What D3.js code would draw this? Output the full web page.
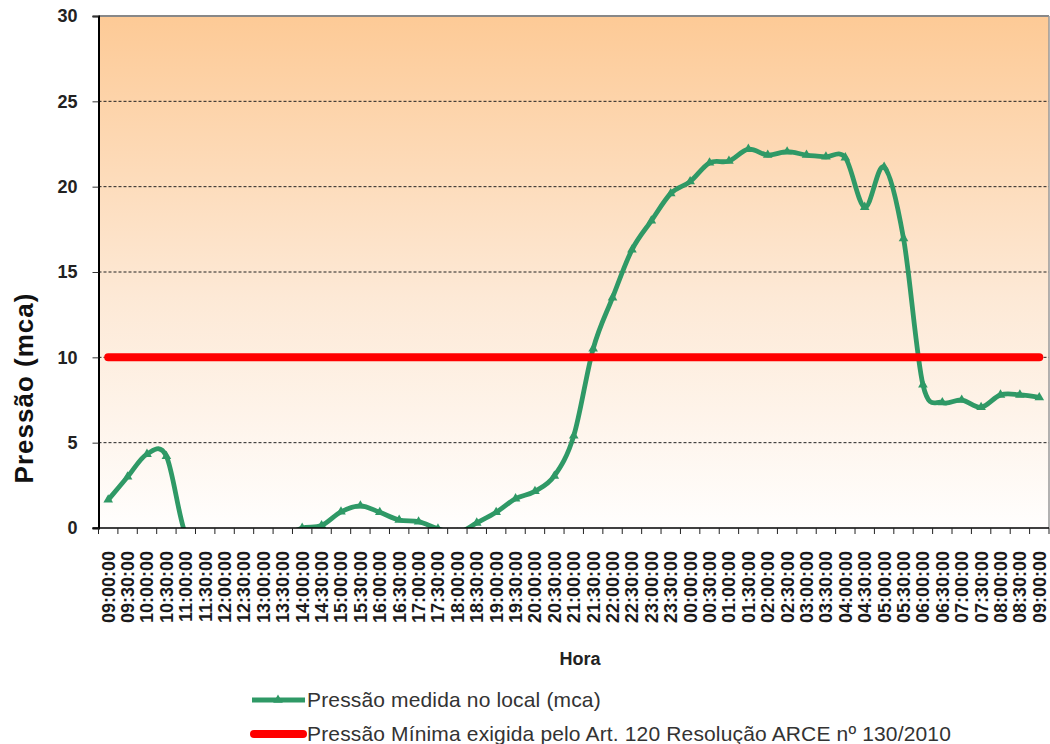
<!DOCTYPE html>
<html>
<head>
<meta charset="utf-8">
<script src="https://cdn.jsdelivr.net/npm/d3@7"></script>
<style>
  body { margin: 0; background: #fff; }
  svg { display: block; font-family: "Liberation Sans", Arial, sans-serif; }
</style>
</head>
<body>
<svg id="chart" width="1050" height="744"></svg>
<script>
// ============= Data =============
const times = [
  '09:00:00','09:30:00','10:00:00','10:30:00','11:00:00','11:30:00','12:00:00','12:30:00',
  '13:00:00','13:30:00','14:00:00','14:30:00','15:00:00','15:30:00','16:00:00','16:30:00',
  '17:00:00','17:30:00','18:00:00','18:30:00','19:00:00','19:30:00','20:00:00','20:30:00',
  '21:00:00','21:30:00','22:00:00','22:30:00','23:00:00','23:30:00','00:00:00','00:30:00',
  '01:00:00','01:30:00','02:00:00','02:30:00','03:00:00','03:30:00','04:00:00','04:30:00',
  '05:00:00','05:30:00','06:00:00','06:30:00','07:00:00','07:30:00','08:00:00','08:30:00',
  '09:00:00'
];

// Measured pressure (values below 0 are clipped by the axis)
const pressao = [
  1.65, 3.0, 4.33, 4.2, -0.4, -0.6, -0.6, -0.6,
  -0.6, -0.5, 0.0, 0.15, 0.95, 1.3, 0.92, 0.47,
  0.37, -0.05, -0.3, 0.3, 0.92, 1.72, 2.15, 3.05,
  5.4, 10.5, 13.5, 16.3, 18.0, 19.6, 20.3, 21.4,
  21.5, 22.2, 21.85, 22.05, 21.85, 21.75, 21.7, 18.8,
  21.15, 16.97, 8.4, 7.35, 7.5, 7.07, 7.8, 7.8,
  7.65
];

// Minimum required pressure
const pressaoMinima = times.map(() => 10);

const yTicks = [0, 5, 10, 15, 20, 25, 30];

const legendLabels = [
  'Pressão medida no local (mca)',
  'Pressão Mínima exigida pelo Art. 120 Resolução ARCE nº 130/2010'
];

// ============= Layout =============
const svg = d3.select('#chart');
const plotLeft = 98.5, plotRight = 1049, plotTop = 16, plotBottom = 528;
const green = '#2f9966', red = '#ff0000';

const x = d3.scaleBand()
  .domain(d3.range(times.length))
  .range([plotLeft, plotRight])
  .padding(0);

const y = d3.scaleLinear()
  .domain([0, 30])
  .range([plotBottom, plotTop]);

const cx = i => x(i) + x.bandwidth() / 2;

// Background gradient
const defs = svg.append('defs');
const grad = defs.append('linearGradient')
  .attr('id', 'bg')
  .attr('x1', 0).attr('y1', 0).attr('x2', 0).attr('y2', 1);
grad.append('stop').attr('offset', '0%').attr('stop-color', '#fdca96');
grad.append('stop').attr('offset', '55%').attr('stop-color', '#fde9d6');
grad.append('stop').attr('offset', '100%').attr('stop-color', '#fffefd');

defs.append('clipPath').attr('id', 'plot-clip')
  .append('rect')
  .attr('x', plotLeft).attr('y', plotTop)
  .attr('width', plotRight - plotLeft).attr('height', plotBottom - plotTop);

svg.append('rect')
  .attr('x', plotLeft).attr('y', plotTop)
  .attr('width', plotRight - plotLeft).attr('height', plotBottom - plotTop)
  .attr('fill', 'url(#bg)');

// Grid lines
svg.append('g')
  .selectAll('line')
  .data(yTicks.filter(d => d > 0 && d < 30))
  .join('line')
    .attr('x1', plotLeft).attr('x2', plotRight)
    .attr('y1', d => y(d)).attr('y2', d => y(d))
    .attr('stroke', '#222')
    .attr('stroke-width', 1)
    .attr('stroke-dasharray', '3,2');

// Top and right border
svg.append('line')
  .attr('x1', plotLeft).attr('x2', plotRight)
  .attr('y1', plotTop).attr('y2', plotTop)
  .attr('stroke', '#888').attr('stroke-width', 2);
svg.append('line')
  .attr('x1', plotRight).attr('x2', plotRight)
  .attr('y1', plotTop).attr('y2', plotBottom)
  .attr('stroke', '#999').attr('stroke-width', 1.5);

// ============= Series =============
const plot = svg.append('g').attr('clip-path', 'url(#plot-clip)');

const line = d3.line()
  .x((d, i) => cx(i))
  .y(d => y(d))
  .curve(d3.curveCardinal.tension(0));

// Minimum line
svg.append('path')
  .datum(pressaoMinima)
  .attr('d', d3.line().x((d, i) => cx(i)).y(d => y(d)))
  .attr('fill', 'none')
  .attr('stroke', red)
  .attr('stroke-width', 8)
  .attr('stroke-linecap', 'round');

// Measured line
plot.append('path')
  .datum(pressao)
  .attr('d', line)
  .attr('fill', 'none')
  .attr('stroke', green)
  .attr('stroke-width', 4.8)
  .attr('stroke-linejoin', 'round');

plot.append('g')
  .selectAll('path')
  .data(pressao)
  .join('path')
    .attr('d', d3.symbol(d3.symbolTriangle, 40))
    .attr('transform', (d, i) => 'translate(' + cx(i) + ',' + y(d) + ')')
    .attr('fill', green);

// ============= Axes =============
const yAxis = svg.append('g')
  .attr('transform', 'translate(' + plotLeft + ',0)')
  .call(d3.axisLeft(y).tickValues(yTicks).tickSize(6).tickPadding(15));
yAxis.select('.domain').attr('stroke', '#000').attr('stroke-width', 2);
yAxis.selectAll('.tick line').attr('stroke', '#333');
yAxis.selectAll('.tick text')
  .attr('font-size', 18).attr('font-weight', 'bold').attr('fill', '#222')
  .attr('font-family', '"Liberation Sans", Arial, sans-serif');

// Bottom axis line and ticks at category boundaries
svg.append('line')
  .attr('x1', plotLeft - 6).attr('x2', plotRight)
  .attr('y1', plotBottom).attr('y2', plotBottom)
  .attr('stroke', '#000').attr('stroke-width', 1.5);

svg.append('g')
  .selectAll('line')
  .data(d3.range(times.length + 1))
  .join('line')
    .attr('x1', k => plotLeft + k * x.step()).attr('x2', k => plotLeft + k * x.step())
    .attr('y1', plotBottom).attr('y2', plotBottom + 6)
    .attr('stroke', '#222').attr('stroke-width', 1);

svg.append('g')
  .selectAll('text')
  .data(times)
  .join('text')
    .attr('transform', (d, i) => 'translate(' + (cx(i) + 6.5) + ',' + 551 + ') rotate(-90)')
    .attr('text-anchor', 'end')
    .attr('font-size', 18)
    .attr('font-weight', 'bold')
    .attr('fill', '#1a1a1a')
    .text(d => d);

// Axis titles
svg.append('text')
  .attr('x', 580).attr('y', 665)
  .attr('text-anchor', 'middle')
  .attr('font-size', 18).attr('font-weight', 'bold').attr('fill', '#222')
  .text('Hora');

svg.append('text')
  .attr('transform', 'translate(33,388) rotate(-90)')
  .attr('text-anchor', 'middle')
  .attr('font-size', 26).attr('font-weight', 'bold').attr('fill', '#111')
  .attr('letter-spacing', 1)
  .text('Pressão (mca)');

// ============= Legend =============
const legend = svg.append('g');
const legendY = [700, 734];

legend.append('line')
  .attr('x1', 252).attr('x2', 305)
  .attr('y1', legendY[0]).attr('y2', legendY[0])
  .attr('stroke', green).attr('stroke-width', 4.8);
legend.append('path')
  .attr('d', d3.symbol(d3.symbolTriangle, 40))
  .attr('transform', 'translate(278,' + legendY[0] + ')')
  .attr('fill', green);

legend.append('line')
  .attr('x1', 254).attr('x2', 303)
  .attr('y1', legendY[1]).attr('y2', legendY[1])
  .attr('stroke', red).attr('stroke-width', 8)
  .attr('stroke-linecap', 'round');

legend.selectAll('text')
  .data(legendLabels)
  .join('text')
    .attr('x', 307)
    .attr('y', (d, i) => legendY[i] + 7)
    .attr('font-size', 21)
    .attr('letter-spacing', 0.15)
    .attr('fill', '#333')
    .text(d => d);
</script>
</body>
</html>
